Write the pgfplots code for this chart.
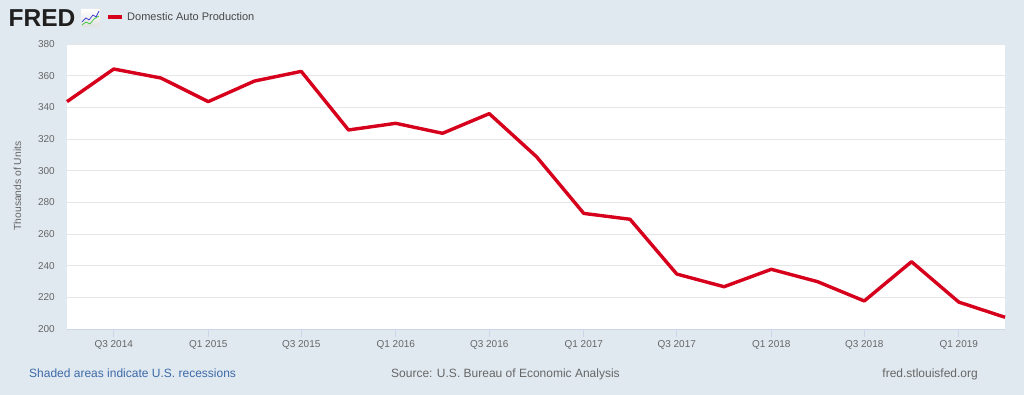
\documentclass[border=0pt]{standalone}
\usepackage{pgfplots}
\pgfplotsset{compat=1.18}
\usepackage{fontspec}
\setmainfont{Liberation Sans}
\definecolor{bgc}{HTML}{E1E9F0}
\definecolor{gridc}{HTML}{E6E6E6}
\definecolor{axc}{HTML}{CCD6EB}
\definecolor{txt}{HTML}{666666}
\definecolor{fredred}{RGB}{214,0,28}
\definecolor{footblue}{HTML}{3D6AA8}
\pgfplotstableread{
d v
0 343.6
91 364.2
183 358.5
275 343.6
365 356.6
456 362.7
548 325.7
640 329.9
731 323.6
822 336.0
914 308.8
1006 273.0
1096 269.3
1187 234.7
1279 226.7
1371 237.7
1461 229.9
1552 217.7
1644 242.5
1736 217.0
1826 207.4
}\datatable
\begin{document}
\begin{tikzpicture}[x=1pt,y=1pt]
\fill[bgc] (0,0) rectangle (1024,395);
\useasboundingbox (0,0) rectangle (1024,395);
% FRED logo
\node[anchor=base west, inner sep=0pt, font=\fontsize{24.5}{24.5}\selectfont\bfseries, text=black!88] at (8.5,368) {FRED};
\shade[top color=white, bottom color=black!12, rounded corners=1pt] (81,368) rectangle (100,386);
\draw[blue!60!gray, line width=0.7pt] (82,373) -- (86,377) -- (89,375) -- (93,380) -- (96,378) -- (99,384);
\draw[green!55!gray, line width=0.7pt] (82,370) -- (86,373) -- (90,371) -- (94,376) -- (99,379);
% legend
\draw[fredred, line width=4pt] (108,378) -- (122,378);
\node[anchor=base west, inner sep=0pt, font=\fontsize{11}{11}\selectfont, text=black!72] at (127,374) {Domestic Auto Production};
% y label
\node[rotate=90, inner sep=0pt, font=\fontsize{10.3}{10.3}\selectfont, text=txt] at (17.5,209) {Thousands of Units};
% footer
\node[anchor=base west, inner sep=0pt, font=\fontsize{12}{12}\selectfont, text=footblue] at (29,17.5) {Shaded areas indicate U.S. recessions};
\node[anchor=base west, inner sep=0pt, font=\fontsize{12}{12}\selectfont, text=txt] at (391,17.5) {Source: U.S. Bureau of Economic Analysis};
\node[anchor=base east, inner sep=0pt, font=\fontsize{12}{12}\selectfont, text=txt] at (978,17.5) {fred.stlouisfed.org};
\begin{axis}[
  at={(67pt,66pt)}, anchor=south west,
  width=938pt, height=285pt, scale only axis,
  xmin=0, xmax=1826, ymin=200, ymax=380,
  axis background/.style={fill=white},
  axis x line*=bottom, axis y line*=left,
  x axis line style={draw=axc, line width=0.8pt, -},
  y axis line style={draw=none},
  ytick={200,220,...,380},
  ymajorgrids, grid style={draw=gridc, line width=0.8pt},
  ytick style={draw=none},
  xtick={91,275,456,640,822,1006,1187,1371,1552,1736},
  xticklabels={Q3 2014,Q1 2015,Q3 2015,Q1 2016,Q3 2016,Q1 2017,Q3 2017,Q1 2018,Q3 2018,Q1 2019},
  xtick style={draw=axc, line width=0.8pt},
  tick align=outside, major tick length=8pt,
  /pgf/number format/assume math mode=true,
  tick label style={font=\fontsize{10}{10}\selectfont, text=txt},
  yticklabel style={inner sep=0pt, anchor=east, xshift=-4pt},
  xticklabel style={inner sep=0pt, anchor=north, yshift=-3pt},
  clip=false,
]
\addplot[fredred, line width=3.4pt, line join=round] table[x=d, y=v] {\datatable};
\end{axis}
\end{tikzpicture}
\end{document}
